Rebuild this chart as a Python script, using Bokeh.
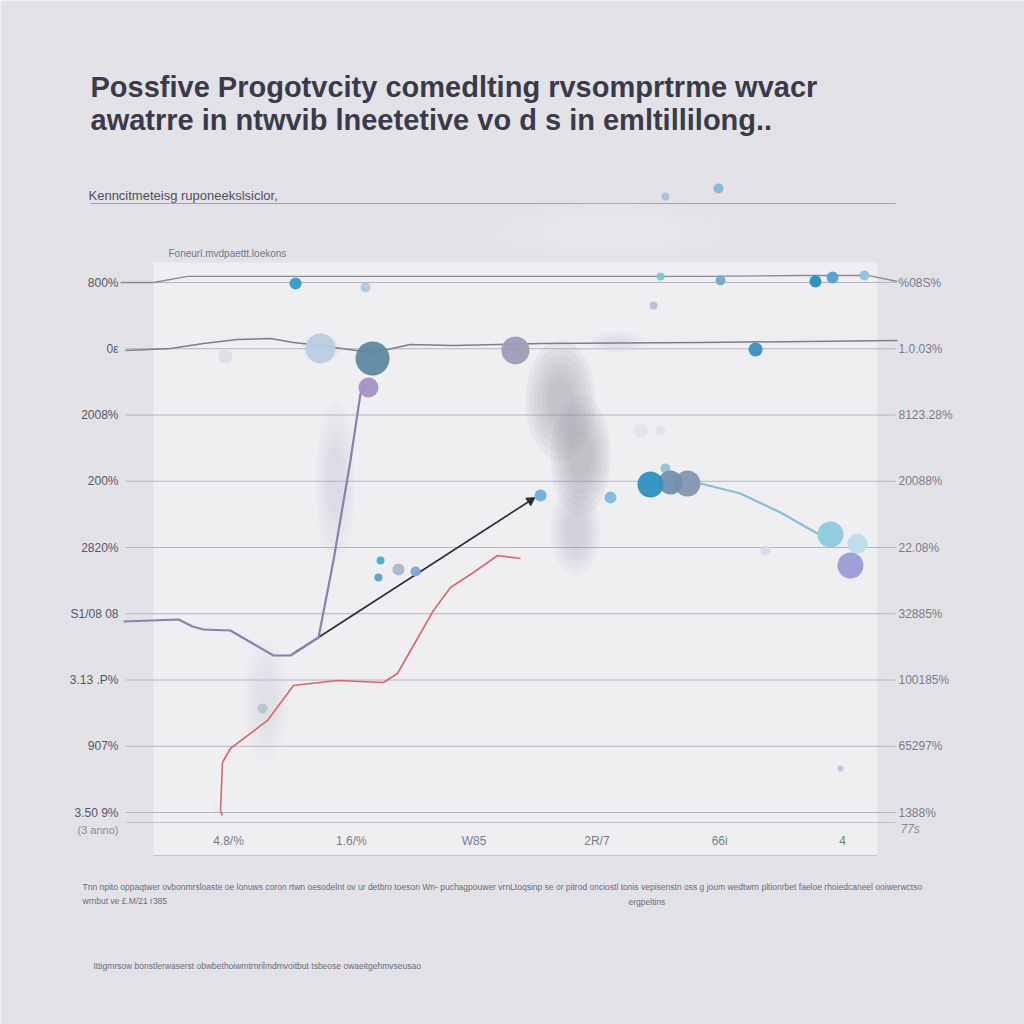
from bokeh.plotting import figure
from bokeh.models import LinearAxis, FixedTicker, Label, Range1d
from bokeh.embed import file_html
from bokeh.resources import INLINE

# ---------------- data (value units: x = category index, y = tick index) ----------------
y_ticks = [0, 1, 2, 3, 4, 5, 6, 7, 8]
left_labels = ["3.50 9%", "907%", "3.13 .P%", "S1/08 08", "2820%", "200%", "2008%", "0\u03b5", "800%"]
right_labels = ["1388%", "65297%", "100185%", "32885%", "22.08%", "20088%", "8123.28%", "1.0.03%", "%08S%"]
x_ticks = [0, 1, 2, 3, 4, 5]
x_labels = ["4.8/%", "1.6/%", "W85", "2R/7", "66i", "4"]

purple_x = [-0.855, -0.407, -0.293, -0.204, 0.016, 0.057, 0.366, 0.505, 0.733, 0.855, 0.993, 1.075, 1.116]
purple_y = [2.883, 2.913, 2.808, 2.762, 2.747, 2.702, 2.370, 2.370, 2.642, 3.804, 5.313, 6.325, 6.445]

black_x = [0.529, 2.459]
black_y = [2.400, 4.709]

red_x = [-0.049, -0.065, -0.049, 0.016, 0.318, 0.529, 0.888, 1.262, 1.376, 1.669, 1.808, 1.995, 2.191, 2.378]
red_y = [-0.045, 0.030, 0.755, 0.966, 1.389, 1.917, 1.992, 1.962, 2.098, 3.049, 3.396, 3.623, 3.879, 3.834]

top_x = [-0.879, -0.611, -0.334, 2.541, 3.844, 4.658, 5.204, 5.448]
top_y = [8.000, 8.000, 8.091, 8.091, 8.091, 8.106, 8.106, 8.015]

mid_x = [-0.839, -0.472, -0.204, 0.073, 0.342, 0.529, 0.749, 1.156, 1.295, 1.482, 1.832, 2.541, 3.844, 5.448]
mid_y = [6.974, 7.004, 7.079, 7.140, 7.155, 7.094, 7.049, 6.943, 6.989, 7.064, 7.049, 7.079, 7.094, 7.125]

blue_x = [3.844, 4.169, 4.495, 4.796, 4.902]
blue_y = [4.966, 4.815, 4.528, 4.211, 4.181]

dot_x = [0.749, 1.173, 0.546, 1.116, -0.024, 1.140, 2.337, 4.292, 3.461, 4.007, 4.780, 4.919, 5.179, 3.518,
         3.990, 3.559, 2.541, 3.111, 3.559, 3.738, 3.599, 3.436, 4.902, 5.122, 5.065, 4.373, 3.355, 3.518,
         1.238, 1.221, 1.384, 1.523, 0.277, 4.984]
dot_y = [7.004, 6.853, 7.985, 7.925, 6.883, 6.415, 6.974, 6.989, 7.653, 8.030, 8.015, 8.075, 8.106, 8.091,
         9.419, 9.298, 4.785, 4.755, 5.192, 4.966, 4.981, 4.951, 4.196, 4.060, 3.728, 3.955, 5.766, 5.766,
         3.804, 3.547, 3.668, 3.638, 1.570, 0.664]
dot_size = [30, 34, 12, 10, 14, 20, 28, 14, 8, 10, 12, 12, 10, 8,
            10, 8, 12, 12, 10, 26, 24, 26, 26, 20, 26, 10, 14, 10,
            8, 8, 12, 10, 10, 6]
dot_color = ["#b9cfe2", "#5d88a2", "#2d9ccc", "#b2c9dc", "#dcdce8", "#a48fc4", "#9c9cbb", "#3a8fc0", "#b4c0d4",
             "#6eaacc", "#1f8fc0", "#4ea2d2", "#8cc4e0", "#7cc4c8", "#7fb8d8", "#a8c0d8", "#6aaedc", "#7abce0",
             "#8ec2d8", "#8196b1", "#7090ae", "#2e90c0", "#8ccadd", "#bcdde9", "#9a9ad8", "#d8d8ee", "#e2e4ec",
             "#dfe3ec", "#3fb2c0", "#5aa0c8", "#a8b8c8", "#7aa8d8", "#b8c4d0", "#b4c8dc"]

title1 = "Possfive Progotvcity  comedlting rvsomprtrme wvacr"
title2 = "awatrre in ntwvib lneetetive vo d s in emltillilong.."
subtitle = "Kenncitmeteisg ruponeekslsiclor,"
panel_note = "Foneurl.mvdpaettt.loekons"
left_extra = "(3 anno)"
right_extra = "77s"
foot1 = ("Tnn npito oppaqtwer ovbonmrsloaste oe lonuws coron rtwn oesodelnt ov ur detbro toeson Wn- puchagpouwer "
         "vrnLtoqsinp se or pitrod onciostl tonis vepisenstn oss g joum wedtwrn pltionrbet faeloe rhoiedcaneel ooiwerwctso")
foot2a = "wrnbut ve \u00a3.M/21 r385"
foot2b = "ergpeltins"
foot3 = "Ittigmrsow bonstlerwaserst obwbethoiwmtrnrilmdmvoitbut tsbeose owaeitgehmvseusao"

# ---------------- layout helpers (page pixel -> value units) ----------------
X0, XS = 228.0, 122.8
Y0, YS = 812.0, 66.25
def X(px):
    return (px - X0) / XS
def Y(py):
    return (Y0 - py) / YS

W = H = 1024
BG = "#e3e3e7"
FONT = "Liberation Sans"

p = figure(width=W, height=H, output_backend="svg", toolbar_location=None,
           x_range=Range1d(X(0), X(W)), y_range=Range1d(Y(H), Y(0)),
           x_axis_location=None, y_axis_location=None, min_border=0)
p.grid.visible = False
p.background_fill_color = BG
p.border_fill_color = BG
p.outline_line_color = None

# plot panel
p.quad(left=X(153), right=X(877), bottom=Y(855), top=Y(262), fill_color="#efeff2",
       line_color=None, level="image")
p.segment(x0=X(153), y0=Y(855), x1=X(877), y1=Y(855), line_color="#c4c4cc", line_width=1)
p.segment(x0=X(90), y0=Y(203), x1=X(895), y1=Y(203), line_color="#a4a4b0", line_width=1)

# soft blurry patches (stacked ellipses imitate blur)
def blur(cx, cy, w, h, c, a, steps=6):
    for i in range(steps):
        f = 1.0 - 0.12 * i
        p.ellipse(x=X(cx), y=Y(cy), width=w * f, height=h * f, width_units="screen",
                  height_units="screen", fill_color=c, fill_alpha=a / steps, line_color=None)

blur(610, 232, 260, 60, "#f2f2f5", 0.7)
blur(560, 400, 70, 120, "#8e8e9a", 0.55)
blur(580, 455, 60, 120, "#8e8e9a", 0.6)
blur(575, 530, 50, 90, "#a0a0aa", 0.35)
blur(335, 480, 40, 160, "#c0c0c8", 0.35)
blur(265, 700, 46, 120, "#cfcfd8", 0.5)
blur(617, 342, 56, 22, "#d8d8e2", 0.9)
blur(320, 348, 40, 30, "#b6cde0", 0.6)

# horizontal grid lines (one per tick)
p.segment(x0=[X(125)] * len(y_ticks), y0=y_ticks, x1=[X(895)] * len(y_ticks), y1=y_ticks,
          line_color="#b4b4c2", line_width=1, level="underlay")

# axes
lax = LinearAxis(fixed_location=X(125), ticker=FixedTicker(ticks=y_ticks),
                 major_label_overrides={t: l for t, l in zip(y_ticks, left_labels)})
rax = LinearAxis(fixed_location=X(895), ticker=FixedTicker(ticks=y_ticks),
                 major_label_overrides={t: l for t, l in zip(y_ticks, right_labels)})
bax = LinearAxis(fixed_location=Y(822), ticker=FixedTicker(ticks=x_ticks), bounds=(X(125), X(895)),
                 major_label_overrides={t: l for t, l in zip(x_ticks, x_labels)})
for ax, col in ((lax, "#55556a"), (rax, "#7a7a8e"), (bax, "#7a7a8e")):
    ax.axis_line_color = None
    ax.major_tick_line_color = None
    ax.minor_tick_line_color = None
    ax.major_tick_in = 0
    ax.major_tick_out = 0
    ax.minor_tick_in = 0
    ax.minor_tick_out = 0
    ax.major_label_text_font = FONT
    ax.major_label_text_font_size = "12px"
    ax.major_label_text_color = col
lax.major_label_standoff = 7
rax.major_label_standoff = 3
bax.axis_line_color = "#c0c0c8"
bax.major_label_standoff = 11
p.add_layout(lax, "left")
p.add_layout(rax, "right")
p.add_layout(bax, "below")

# lines
p.line(top_x, top_y, line_color="#8a8a98", line_width=1.3)
p.line(mid_x, mid_y, line_color="#7e7e90", line_width=1.5)
p.line(red_x, red_y, line_color="#d9666a", line_width=1.6)
p.line(black_x, black_y, line_color="#2a2a38", line_width=1.6)
p.scatter([black_x[-1]], [black_y[-1]], marker="triangle", size=9, angle=-0.998,
          fill_color="#2a2a38", line_color="#2a2a38")
p.line(purple_x, purple_y, line_color="#8d7fb0", line_width=2.2)
p.line(blue_x, blue_y, line_color="#86c0d4", line_width=2.2)

# bubbles
p.scatter(dot_x, dot_y, size=dot_size, fill_color=dot_color, line_color=None, fill_alpha=0.95)

# texts
def lab(px, py, text, size, color, bold=False, align="left", style=None):
    p.add_layout(Label(x=X(px), y=Y(py), text=text, text_font=FONT, text_font_size=size,
                       text_color=color, text_align=align, text_baseline="middle",
                       text_font_style=style or ("bold" if bold else "normal")))

lab(90, 86, title1, "29px", "#3a3a4a", bold=True)
lab(90, 119, title2, "29px", "#3a3a4a", bold=True)
lab(88, 195, subtitle, "13px", "#4e4e5e")
lab(168, 253, panel_note, "10px", "#74748a")
lab(118, 829, left_extra, "11px", "#8a8a9c", align="right")
lab(900, 828, right_extra, "12px", "#8a8a9c", style="italic")
lab(82, 886, foot1, "8.5px", "#6a6a7c")
lab(82, 900, foot2a, "8.5px", "#6a6a7c")
lab(628, 901, foot2b, "8.5px", "#6a6a7c")
lab(93, 965, foot3, "8.5px", "#6a6a7c")

open("out.html", "w").write(file_html(p, INLINE))
